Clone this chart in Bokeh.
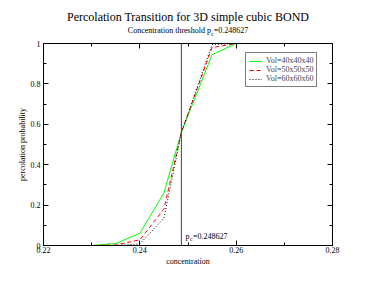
from bokeh.plotting import figure
from bokeh.layouts import column
from bokeh.models import (Label, Span, LinearAxis, FixedTicker, Legend, LegendItem,
                          CustomJSTickFormatter, Range1d, Div)
from bokeh.embed import file_html
from bokeh.resources import INLINE

# ---- data ----
conc = [0.22, 0.225, 0.23, 0.235, 0.24, 0.245, 0.248627, 0.255, 0.26, 0.265, 0.27, 0.275, 0.28]
prob_40 = [0, 0, 0, 0.01, 0.06, 0.26, 0.56, 0.945, 1, 1, 1, 1, 1]
prob_50 = [0, 0, 0, 0.003, 0.028, 0.18, 0.56, 0.98, 1, 1, 1, 1, 1]
prob_60 = [0, 0, 0, 0, 0.008, 0.135, 0.56, 0.995, 1, 1, 1, 1, 1]
series_labels = ["Vol=40x40x40", "Vol=50x50x50", "Vol=60x60x60"]
pc = 0.248627
title_text = "Percolation Transition for 3D simple cubic BOND"
x_major = [0.22, 0.24, 0.26, 0.28]
x_minor = [0.23, 0.25, 0.27]
y_major = [0, 0.2, 0.4, 0.6, 0.8, 1]
y_minor = [0.1, 0.3, 0.5, 0.7, 0.9]
x_tick_labels = {0.22: "0.22", 0.24: "0.24", 0.26: "0.26", 0.28: "0.28"}
y_tick_labels = {0: "0", 0.2: "0.2", 0.4: "0.4", 0.6: "0.6", 0.8: "0.8", 1: "1"}

FONT = "Liberation Serif"
DIV_H = 38
ff = f"font-family:'{FONT}',serif;color:black;"

header = Div(
    text=(f'<div style="{ff}text-align:center;width:360px;box-sizing:border-box;padding-left:16px;">'
          f'<div style="{ff}text-align:center;margin-top:10px;height:14px;line-height:14px;font-size:12px;white-space:nowrap;">{title_text}</div>'
          f'<div style="{ff}text-align:center;margin-top:2px;height:10px;line-height:10px;font-size:8px;white-space:nowrap;">'
          f'Concentration threshold p<sub style="{ff}font-size:6px;">c</sub>={pc}</div></div>'),
    width=360, height=DIV_H, margin=0,
    styles={"font-family": f"'{FONT}', serif", "width": "360px"})

p = figure(width=360, height=275 - DIV_H, output_backend="svg", toolbar_location=None,
           x_range=Range1d(0.22, 0.28), y_range=Range1d(0, 1),
           min_border_left=43, min_border_right=28, min_border_top=43 - DIV_H, min_border_bottom=30,
           margin=0)
p.xgrid.visible = False
p.ygrid.visible = False
p.outline_line_color = "black"
p.outline_line_width = 1
p.background_fill_color = "white"
p.border_fill_color = "white"

def style_axis(ax, ticks, minor, labels, show_labels):
    ax.ticker = FixedTicker(ticks=ticks, minor_ticks=minor)
    ax.major_tick_in = 5
    ax.major_tick_out = 0
    ax.minor_tick_in = 3
    ax.minor_tick_out = 0
    ax.axis_line_color = "black"
    ax.major_tick_line_color = "black"
    ax.minor_tick_line_color = "black"
    if show_labels:
        ax.major_label_overrides = labels
        ax.major_label_text_font = FONT
        ax.major_label_text_font_size = "8px"
        ax.major_label_text_color = "black"
        ax.major_label_standoff = 3
    else:
        ax.formatter = CustomJSTickFormatter(code="return ''")
        ax.major_label_text_font_size = "0px"
        ax.major_label_standoff = 0

xa = p.xaxis[0]
ya = p.yaxis[0]
style_axis(xa, x_major, x_minor, x_tick_labels, True)
style_axis(ya, y_major, y_minor, y_tick_labels, True)
xa.major_label_standoff = 1
ya.major_label_orientation = "horizontal"
xa.axis_label = "concentration"
ya.axis_label = "percolation probability"
for ax in (xa, ya):
    ax.axis_label_text_font = FONT
    ax.axis_label_text_font_size = "8px"
    ax.axis_label_text_font_style = "normal"
    ax.axis_label_text_color = "black"
    ax.axis_label_standoff = 1

top = LinearAxis()
right = LinearAxis()
style_axis(top, x_major, x_minor, {}, False)
style_axis(right, y_major, y_minor, {}, False)
p.add_layout(top, "above")
p.add_layout(right, "right")

# threshold line
p.add_layout(Span(location=pc, dimension="height", line_color="#444444", line_width=1))

r40 = p.line(conc, prob_40, line_color="#00ff00", line_width=1)
r50 = p.line(conc, prob_50, line_color="#ff0000", line_width=1, line_dash="4 3")
r60 = p.line(conc, prob_60, line_color="black", line_width=1, line_dash="1 2")

legend = Legend(items=[LegendItem(label=series_labels[0], renderers=[r40]),
                       LegendItem(label=series_labels[1], renderers=[r50]),
                       LegendItem(label=series_labels[2], renderers=[r60])],
                location=(202, 158), border_line_color="black", border_line_width=1,
                background_fill_color="white", background_fill_alpha=1,
                label_text_font=FONT, label_text_font_size="8px",
                glyph_width=13, glyph_height=8, label_height=8,
                label_standoff=4, padding=3, spacing=0, margin=0)
p.add_layout(legend)

# pc annotation
p.add_layout(Label(x=pc, y=0, x_offset=4, y_offset=9, text="p",
                   text_font=FONT, text_font_size="8px", text_align="left",
                   text_baseline="middle", text_color="black"))
p.add_layout(Label(x=pc, y=0, x_offset=8.5, y_offset=6.5, text="c",
                   text_font=FONT, text_font_size="6px", text_align="left",
                   text_baseline="middle", text_color="black"))
p.add_layout(Label(x=pc, y=0, x_offset=11.5, y_offset=9, text="=" + str(pc),
                   text_font=FONT, text_font_size="8px", text_align="left",
                   text_baseline="middle", text_color="black"))

layout = column(header, p, spacing=0, margin=0)
open("out.html", "w").write(file_html(layout, INLINE))
